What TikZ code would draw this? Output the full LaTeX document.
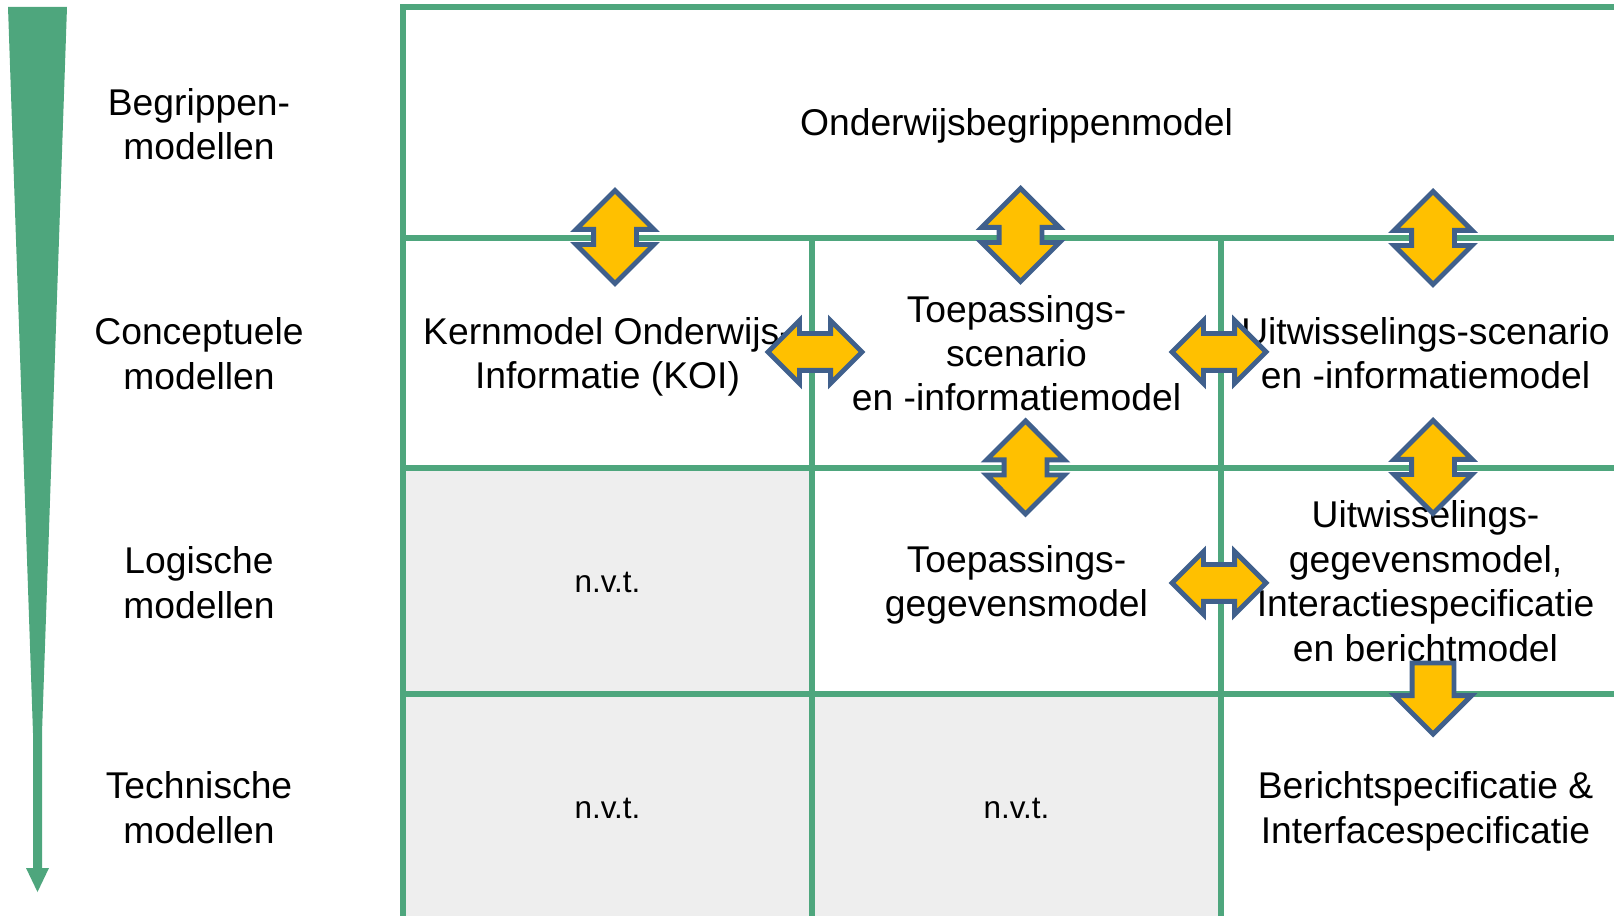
\documentclass[tikz,border=0pt]{standalone}
\usepackage{fontspec}
\setmainfont{Liberation Sans}
\usetikzlibrary{shapes.arrows}
\definecolor{gridgreen}{RGB}{78,166,125}
\definecolor{arrowblue}{RGB}{64,96,140}
\definecolor{arrowgold}{RGB}{255,192,0}
\definecolor{nvtgray}{RGB}{238,238,238}

\begin{document}
\begin{tikzpicture}[
    cell/.style={draw=gridgreen, line width=3pt, minimum width=8.18cm,
      align=center, text depth=0pt, font=\fontsize{21.2}{25.3}\selectfont},
    nvt/.style={cell, fill=nvtgray, text height=13pt,
      font=\fontsize{17.9}{21.5}\selectfont},
    level/.style={align=center, text depth=0pt,
      font=\fontsize{21.2}{25.3}\selectfont},
    vdouble/.style={double arrow, rotate=90, draw=arrowblue, fill=arrowgold,
      line width=2.8pt, inner xsep=0, inner ysep=0.38cm,
      minimum height=1.86cm, minimum width=1.46cm,
      double arrow head extend=0.35cm},
    hdouble/.style={double arrow, draw=arrowblue, fill=arrowgold,
      line width=2.8pt, inner xsep=0, inner ysep=0.32cm,
      minimum height=1.88cm, minimum width=1.16cm,
      double arrow head extend=0.26cm}]
  \useasboundingbox (0, 0) rectangle (32.28, 18.3);

  % level arrow on the left
  \fill[gridgreen] (0.16, 18.16) -- (1.34, 18.16) -- (0.84, 3.64)
    -- (0.84, 0.94) -- (0.98, 0.94) -- (0.75, 0.46) -- (0.52, 0.94)
    -- (0.66, 0.94) -- (0.66, 3.64) -- cycle;

  \node[level] (lb) at (3.98, 15.82) {Begrippen-\\modellen};
  \node[level] (lc) at (3.98, 11.23) {Conceptuele\\modellen};
  \node[level] (ll) at (3.98, 6.65) {Logische\\modellen};
  \node[level] (lt) at (3.98, 2.15) {Technische\\modellen};

  % the table
  \node[cell, minimum width=24.54cm, minimum height=4.62cm]
    (obm) at (20.33, 15.85) {Onderwijsbegrippenmodel};

  \node[cell, minimum height=4.6cm]
    (koi) at (12.15, 11.24) {Kernmodel Onderwijs-\\Informatie (KOI)};

  \node[cell, minimum height=4.6cm]
    (tsim) at (20.33, 11.24) {Toepassings-\\scenario\\en -informatiemodel};

  \node[cell, minimum height=4.6cm]
    (usim) at (28.51, 11.24) {Uitwisselings-scenario\\en -informatiemodel};

  \node[nvt, minimum height=4.52cm]
    (nvt1) at (12.15, 6.68) {n.v.t.};

  \node[cell, minimum height=4.52cm]
    (tgm) at (20.33, 6.68) {Toepassings-\\gegevensmodel};

  \node[cell, minimum height=4.52cm]
    (ugm) at (28.51, 6.68)
    {Uitwisselings-\\gegevensmodel,\\Interactiespecificatie\\en berichtmodel};

  \node[nvt, minimum height=4.54cm]
    (nvt2) at (12.15, 2.15) {n.v.t.};

  \node[nvt, minimum height=4.54cm]
    (nvt3) at (20.33, 2.15) {n.v.t.};

  \node[cell, minimum height=4.54cm]
    (bsis) at (28.51, 2.15) {Berichtspecificatie \&\\Interfacespecificatie};

  % block arrows between the models
  \node[vdouble] (A1) at (12.30, 13.56) {};
  \node[vdouble] (A2) at (20.41, 13.60) {};
  \node[vdouble] (A3) at (28.66, 13.54) {};
  \node[hdouble] (A4) at (16.30, 11.26) {};
  \node[hdouble] (A5) at (24.38, 11.26) {};
  \node[vdouble] (A6) at (20.51, 8.95) {};
  \node[vdouble] (A7) at (28.66, 8.96) {};
  \node[hdouble] (A8) at (24.38, 6.64) {};

  \node[single arrow, rotate=-90, anchor=tip, draw=arrowblue,
    fill=arrowgold, line width=2.8pt, inner xsep=0, inner ysep=0.37cm,
    minimum height=1.42cm, minimum width=1.44cm,
    single arrow head extend=0.35cm]
    (A9) at (28.66, 3.55) {};
\end{tikzpicture}
\end{document}
